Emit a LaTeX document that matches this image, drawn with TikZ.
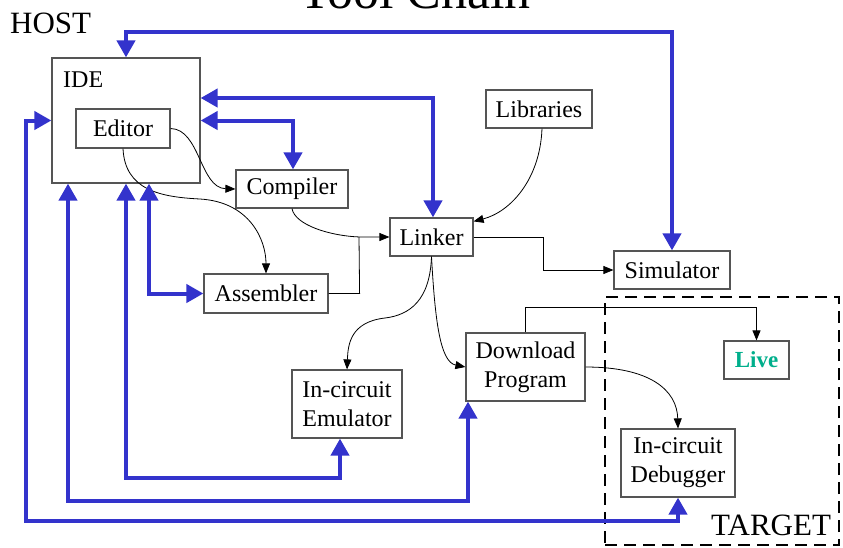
\documentclass[tikz,border=0pt]{standalone}
\usepackage{fontspec}
\setmainfont{Liberation Serif}
\usetikzlibrary{arrows.meta,calc}
\definecolor{ablue}{RGB}{51,51,204}
\definecolor{liveteal}{RGB}{0,175,140}
\definecolor{boxgray}{RGB}{85,85,85}
\begin{document}
\begin{tikzpicture}[x=1pt,y=-1pt,
  box/.style={draw=boxgray,line width=1.2pt,inner sep=0pt,font=\fontsize{24}{29}\selectfont,align=center},
  bluelink/.style={draw=ablue,line width=4pt,{Triangle[length=17pt,width=18pt]}-{Triangle[length=17pt,width=18pt]}},
  blacklink/.style={draw=black,line width=0.8pt,-{Triangle[length=10pt,width=8pt]}},
  lbl/.style={font=\fontsize{31}{36}\selectfont,inner sep=0pt}]
\useasboundingbox (0,0) rectangle (843,547);
\clip (0,0) rectangle (843,547);
\fill[white] (0,0) rectangle (843,547);

% title (cut off at the top)
\node[font=\fontsize{52}{60}\selectfont,anchor=base,inner sep=0pt] (title) at (415,8) {Tool Chain};
\node[lbl,anchor=base west] (host) at (10,33) {HOST};

% target region
\node[draw=black,line width=2.2pt,dash pattern=on 12pt off 7pt,minimum width=234pt,minimum height=248pt,inner sep=0pt] (target) at (722,421) {};
\node[lbl,anchor=base west] (targetlbl) at (711,535) {TARGET};

% boxes
\node[box,minimum width=148pt,minimum height=125pt] (ide) at (126,120.5) {};
\node[anchor=base west,inner sep=0pt,font=\fontsize{24}{29}\selectfont] (idel) at (63,87) {IDE};
\node[box,minimum width=94pt,minimum height=39pt] (ed) at (123,128.5) {Editor};
\node[box,minimum width=112pt,minimum height=38pt] (comp) at (292,189) {Compiler};
\node[box,minimum width=83pt,minimum height=38pt] (linker) at (431.5,237) {Linker};
\node[box,minimum width=124pt,minimum height=39pt] (asm) at (266,293.5) {Assembler};
\node[box,minimum width=106pt,minimum height=38pt] (lib) at (539,109) {Libraries};
\node[box,minimum width=116pt,minimum height=38pt] (sim) at (672,270) {Simulator};
\node[box,minimum width=119pt,minimum height=68pt] (dp) at (525.5,367) {Download\\Program};
\node[box,minimum width=110pt,minimum height=68pt] (emu) at (347,404) {In-circuit\\Emulator};
\node[box,minimum width=65pt,minimum height=38pt,text=liveteal,font=\fontsize{23}{28}\selectfont\bfseries] (live) at (756.5,360) {Live};
\node[box,minimum width=114pt,minimum height=68pt] (dbg) at (678,463) {In-circuit\\Debugger};

% black connectors
\draw[blacklink] (ed.east) .. controls (200,129) and (200,188) .. (comp.west);
\draw[blacklink] (ed.south) .. controls (125,190) and (160,197) .. (200,199) .. controls (250,202) and (266,240) .. (asm.north);
\draw[blacklink] (comp.south) .. controls (295,225) and (330,236) .. (360,237) -- (linker.west);
\draw[line width=0.8pt] (asm.east) -- ++(31,0) -- (359,237);
\draw[blacklink] ([xshift=3pt]lib.south) .. controls (540,180) and (510,212) .. ([yshift=-4pt]linker.north east);
\draw[blacklink] (linker.east) -- ++(70,0) |- (sim.west);
\draw[blacklink] (linker.south) .. controls (430,300) and (410,315) .. (385,318) .. controls (350,322) and (348,345) .. (emu.north);
\draw[blacklink] (linker.south) .. controls (435,320) and (440,362) .. (dp.west);
\draw[blacklink] (dp.north) -- ++(0,-25) -| (live.north);
\draw[blacklink] (dp.east) .. controls (650,367) and (677,390) .. (dbg.north);

% blue connectors
\draw[bluelink] (ide.north) -- ++(0,-25) -| (sim.north);
\draw[bluelink] ([yshift=22.5pt]ide.east) -| ([xshift=1.5pt]linker.north);
\draw[bluelink] (ide.east) -| ([xshift=1pt]comp.north);
\draw[bluelink] ([xshift=23pt]ide.south) |- (asm.west);
\draw[bluelink] (ide.south) |- ([xshift=-7pt,yshift=-39pt]emu.south) -- ([xshift=-7pt]emu.south);
\draw[bluelink] ([xshift=-58pt]ide.south) |- ([xshift=-57.5pt,yshift=-99pt]dp.south) -- ([xshift=-57.5pt]dp.south);
\draw[bluelink] (ide.west) -- ++(-25,0) |- ([yshift=-23pt]dbg.south) -- (dbg.south);
\end{tikzpicture}
\end{document}
